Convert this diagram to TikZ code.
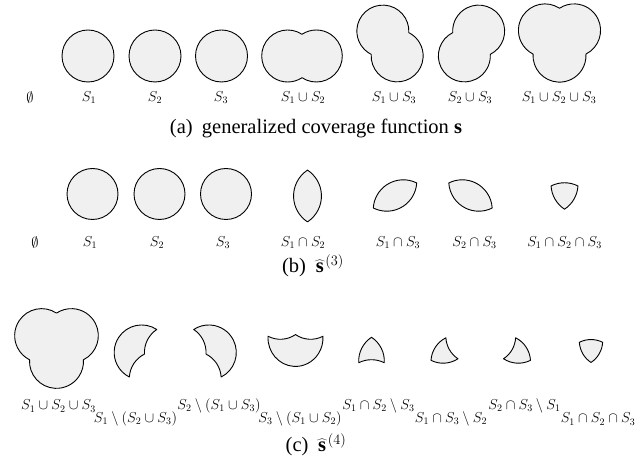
\documentclass[tikz,border=0pt]{standalone}
\usepackage[no-math]{fontspec}
\newfontfamily\capfont{Liberation Serif}
\definecolor{regfill}{HTML}{F0F0F0}
\tikzset{
  region/.style={draw=black, fill=regfill, line width=0.9pt, line join=round},
  lab/.style={font=\fontsize{14}{16}\selectfont, inner sep=0pt},
  captxt/.style={font=\fontsize{20.5}{24}\selectfont\capfont, inner sep=0pt},
}
\newcommand\hats{\widehat{\hbox{\kern1.6pt\capfont\bfseries s\kern1.6pt}}}
% model: R=1, d=1.1, alpha=acos(0.55)=56.63
\def\pUab{(0,1.1527) arc[start angle=56.63,end angle=303.37,radius=1] arc[start angle=236.63,end angle=483.37,radius=1] -- cycle}
\def\pUac{(0.44827,0.25876) arc[start angle=-3.37,end angle=243.37,radius=1] arc[start angle=176.63,end angle=423.37,radius=1] -- cycle}
\def\pUbc{(0.99822,-0.57639) arc[start angle=296.63,end angle=543.37,radius=1] arc[start angle=116.63,end angle=363.37,radius=1] -- cycle}
\def\pUabc{(0,1.1527) arc[start angle=56.63,end angle=243.37,radius=1] arc[start angle=176.63,end angle=363.37,radius=1] arc[start angle=296.63,end angle=483.37,radius=1] -- cycle}
\def\pIab{(0,-0.51762) arc[start angle=-56.63,end angle=56.63,radius=1] arc[start angle=123.37,end angle=236.63,radius=1] -- cycle}
\def\pIac{(-0.99822,-0.57639) arc[start angle=243.37,end angle=356.63,radius=1] arc[start angle=63.37,end angle=176.63,radius=1] -- cycle}
\def\pIbc{(-0.44827,0.25876) arc[start angle=183.37,end angle=296.63,radius=1] arc[start angle=3.37,end angle=116.63,radius=1] -- cycle}
\def\pIabc{(0.44827,0.25876) arc[start angle=63.37,end angle=116.63,radius=1] arc[start angle=183.37,end angle=236.63,radius=1] arc[start angle=303.37,end angle=356.63,radius=1] -- cycle}
\def\pDa{(0,1.1527) arc[start angle=56.63,end angle=243.37,radius=1] arc[start angle=176.63,end angle=116.63,radius=1] arc[start angle=183.37,end angle=123.37,radius=1] -- cycle}
\def\pDb{(0.99822,-0.57639) arc[start angle=296.63,end angle=483.37,radius=1] arc[start angle=56.63,end angle=-3.37,radius=1] arc[start angle=63.37,end angle=3.37,radius=1] -- cycle}
\def\pDc{(-0.99822,-0.57639) arc[start angle=176.63,end angle=363.37,radius=1] arc[start angle=296.63,end angle=236.63,radius=1] arc[start angle=303.37,end angle=243.37,radius=1] -- cycle}
\def\pEab{(0,1.1527) arc[start angle=56.63,end angle=-3.37,radius=1] arc[start angle=63.37,end angle=116.63,radius=1] arc[start angle=183.37,end angle=123.37,radius=1] -- cycle}
\def\pEac{(-0.99822,-0.57639) arc[start angle=243.37,end angle=303.37,radius=1] arc[start angle=236.63,end angle=183.37,radius=1] arc[start angle=116.63,end angle=176.63,radius=1] -- cycle}
\def\pEbc{(0.99822,-0.57639) arc[start angle=296.63,end angle=236.63,radius=1] arc[start angle=303.37,end angle=356.63,radius=1] arc[start angle=63.37,end angle=3.37,radius=1] -- cycle}
\newcommand\shapeat[4]{\begin{scope}[shift={(#1,#2)},scale=#3]\draw[region] #4;\end{scope}}
\newcommand\shapexy[5]{\begin{scope}[shift={(#1,#2)},xscale=#3,yscale=#4]\draw[region] #5;\end{scope}}
\begin{document}
\begin{tikzpicture}[x=1pt,y=1pt]
\useasboundingbox (0,0) rectangle (642,463);
% ---------- row (a)
\draw[region] (88,407) circle[radius=26];
\draw[region] (155,407) circle[radius=26];
\draw[region] (221.5,407) circle[radius=26];
\shapeat{302}{398.74}{26}{\pUab}
\shapeat{397.15}{423.63}{26}{\pUac}
\shapeat{464.35}{423.63}{26}{\pUbc}
\shapeat{559.5}{424.2}{26.5}{\pUabc}
\node[lab] (a0) at (30,365) {$\emptyset$};
\node[lab] (a1) at (89,365) {$S_1$};
\node[lab] (a2) at (155,365) {$S_2$};
\node[lab] (a3) at (221,365) {$S_3$};
\node[lab] (a12) at (303,365) {$S_1\cup S_2$};
\node[lab] (a13) at (394,365) {$S_1\cup S_3$};
\node[lab] (a23) at (470,365) {$S_2\cup S_3$};
\node[lab] (a123) at (559,365) {$S_1\cup S_2\cup S_3$};
\node[captxt] (capa) at (316,335) {(a)\hspace{0.45em}generalized coverage function \textbf{s}};
% ---------- row (b)
\draw[region] (92.5,269) circle[radius=25.5];
\draw[region] (159.5,269) circle[radius=25.5];
\draw[region] (226,269) circle[radius=25.5];
\shapeat{307.5}{257.16}{31}{\pIab}
\shapeat{403.25}{272.27}{30}{\pIac}
\shapeat{462.25}{272.27}{30}{\pIbc}
\shapeat{564.5}{269.29}{30}{\pIabc}
\node[lab] (b0) at (35,220) {$\emptyset$};
\node[lab] (b1) at (90,220) {$S_1$};
\node[lab] (b2) at (157,220) {$S_2$};
\node[lab] (b3) at (223,220) {$S_3$};
\node[lab] (b12) at (303,220) {$S_1\cap S_2$};
\node[lab] (b13) at (398,220) {$S_1\cap S_3$};
\node[lab] (b23) at (474.5,220) {$S_2\cap S_3$};
\node[lab] (b123) at (564.5,220) {$S_1\cap S_2\cap S_3$};
\node[captxt] (capb) at (313,197) {(b)\hspace{0.4em}$\hats^{(3)}$};
% ---------- row (c)
\shapeat{56.5}{118.79}{27}{\pUabc}
\shapeat{156.81}{101.81}{27.5}{\pDa}
\shapeat{193.69}{101.81}{27.5}{\pDb}
\shapexy{295.5}{143.17}{27.5}{28.5}{\pDc}
\shapeat{371.5}{92.89}{28.5}{\pEab}
\shapeat{457.97}{118.22}{27}{\pEac}
\shapeat{503.53}{118.22}{27}{\pEbc}
\shapeat{591}{113.98}{26}{\pIabc}
\node[lab] (c1) at (58.5,57) {$S_1\cup S_2\cup S_3$};
\node[lab] (c2) at (135.5,44) {$S_1\setminus(S_2\cup S_3)$};
\node[lab] (c3) at (219,57) {$S_2\setminus(S_1\cup S_3)$};
\node[lab] (c4) at (300,44) {$S_3\setminus(S_1\cup S_2)$};
\node[lab] (c5) at (378.5,57) {$S_1\cap S_2\setminus S_3$};
\node[lab] (c6) at (451,44) {$S_1\cap S_3\setminus S_2$};
\node[lab] (c7) at (524.5,57) {$S_2\cap S_3\setminus S_1$};
\node[lab] (c8) at (598,44) {$S_1\cap S_2\cap S_3$};
\node[captxt] (capc) at (316,18) {(c)\hspace{0.4em}$\hats^{(4)}$};
\end{tikzpicture}
\end{document}
